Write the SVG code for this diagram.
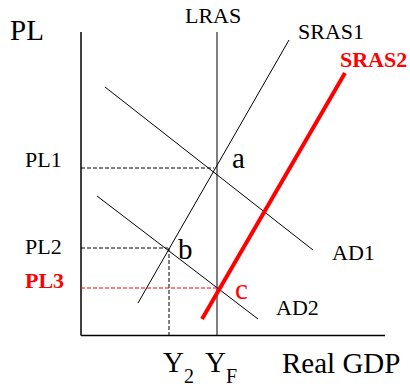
<svg xmlns="http://www.w3.org/2000/svg" width="410" height="386" viewBox="0 0 410 386">
<style>
text{font-family:"Liberation Serif","Times New Roman",serif;fill:#000}
.big{font-size:29px}
.mid{font-size:22px}
.red{fill:#ff0000}
.bold{font-weight:bold}
.ln{stroke:#000;stroke-width:1;fill:none}
.ax{stroke:#000;stroke-width:1.5;fill:none}
.dash{stroke:#000;stroke-width:1;stroke-dasharray:4 2;fill:none}
.rdash{stroke:#ff0000;stroke-width:1;stroke-dasharray:4 2;fill:none}
.sras2{stroke:#ff0000;stroke-width:4;fill:none}
</style>
<rect width="410" height="386" fill="#fff"/>
<g id="connectors">
<line class="ax" x1="81" y1="32" x2="81" y2="335.5"/>
<line class="ax" x1="81" y1="335.5" x2="385" y2="335.5"/>
<line class="ln" x1="217" y1="32" x2="217" y2="335"/>
<line class="ln" x1="289" y1="40" x2="138" y2="303"/>
<line class="ln" x1="105" y1="87" x2="313" y2="250"/>
<line class="ln" x1="97" y1="196" x2="258" y2="319"/>
<line class="dash" x1="81" y1="168" x2="214" y2="168"/>
<line class="dash" x1="81" y1="248" x2="168" y2="248"/>
<line class="dash" x1="169" y1="248" x2="169" y2="335"/>
<line class="rdash" x1="81" y1="288" x2="217" y2="288"/>
<line class="sras2" x1="345" y1="73" x2="202" y2="319"/>
</g>
<g id="axis-labels">
<text class="big" x="10" y="40">PL</text>
<text class="big" x="282" y="373">Real GDP</text>
<text class="big" x="163" y="372">Y<tspan font-size="20" dy="11">2</tspan></text>
<text class="big" x="205" y="372">Y<tspan font-size="20" dy="11">F</tspan></text>
</g>
<g id="curve-labels">
<text class="mid" x="185" y="23">LRAS</text>
<text class="mid" x="298" y="39">SRAS1</text>
<text class="mid bold red" x="340" y="67">SRAS2</text>
<text class="mid" x="332" y="260">AD1</text>
<text class="mid" x="276" y="315">AD2</text>
</g>
<g id="price-labels">
<text class="mid" x="25" y="167">PL1</text>
<text class="mid" x="25" y="254">PL2</text>
<text class="mid bold red" x="25" y="288">PL3</text>
</g>
<g id="points">
<text class="big" x="232" y="168">a</text>
<text class="big" x="178" y="259">b</text>
<text class="big red" x="235" y="299">c</text>
</g>
</svg>
